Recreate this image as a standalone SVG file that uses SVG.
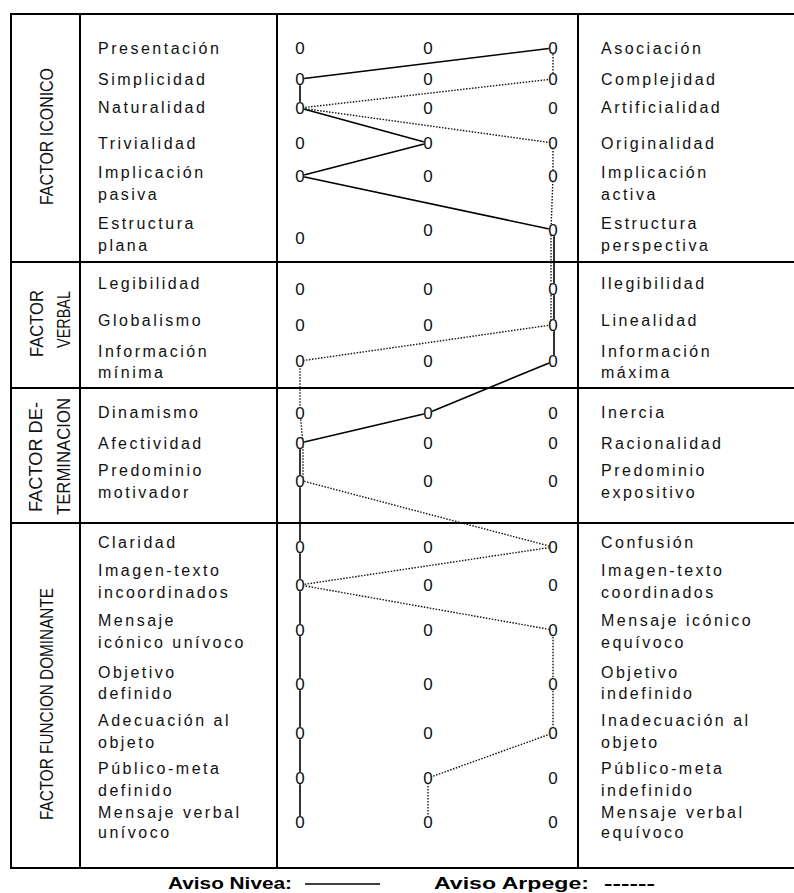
<svg xmlns="http://www.w3.org/2000/svg" width="794" height="893" viewBox="0 0 794 893">
<style>
.lbl{font-family:"Liberation Sans",Arial,sans-serif;font-size:16px;letter-spacing:2.5px;fill:#111}
.z{font-family:"Liberation Sans",Arial,sans-serif;font-size:17px;fill:#111;text-anchor:middle}
.zb{fill:#fff}
.fac{font-family:"Liberation Sans",Arial,sans-serif;font-size:18px;fill:#111}
.grid{stroke:#000;stroke-width:2;fill:none}
.nivea{stroke:#000;stroke-width:1.6;fill:none;stroke-linejoin:round}
.arpege{stroke:#111;stroke-width:1.4;stroke-dasharray:1.5 1.5;fill:none}
.leg{font-family:"Liberation Sans",Arial,sans-serif;font-weight:bold;font-size:17px;fill:#000}
</style>
<defs>
<ellipse id="zbg" class="zb" rx="4.3" ry="6.3"/>
</defs>
<rect width="794" height="893" fill="#fff"/>

<g id="grid" class="grid">
<path d="M10,14H794M10,262H794M10,388H794M10,523H794M10,868H794"/>
<path d="M11,14V868M80,14V868M277,14V868M578,14V868"/>
</g>

<g id="factors">
<text class="fac" transform="translate(53,205) rotate(-90)" textLength="137" lengthAdjust="spacingAndGlyphs">FACTOR ICONICO</text>
<text class="fac" transform="translate(43,357) rotate(-90)" textLength="67" lengthAdjust="spacingAndGlyphs">FACTOR</text>
<text class="fac" transform="translate(70,348) rotate(-90)" textLength="57" lengthAdjust="spacingAndGlyphs">VERBAL</text>
<text class="fac" transform="translate(42,512) rotate(-90)" textLength="110" lengthAdjust="spacingAndGlyphs">FACTOR DE-</text>
<text class="fac" transform="translate(70,515) rotate(-90)" textLength="117" lengthAdjust="spacingAndGlyphs">TERMINACION</text>
<text class="fac" transform="translate(53,820) rotate(-90)" textLength="232" lengthAdjust="spacingAndGlyphs">FACTOR FUNCION DOMINANTE</text>
</g>

<g id="connectors">
<path class="nivea" d="M553,48 L300,79 L300,108 L428,143 L300,176 L554,230 L554,289 L554,325 L554,361 L428,413 L300,443 L300,481 L300,822"/>
<path class="arpege" d="M553,48 L553,79 L300,108 L553,143 L553,176 L551,230 L551,289 L551,325 L300,361 L300,413 L303,443 L303,481 L553,547 L300,585 L553,630 L553,684 L553,733 L428,778 L428,822"/>
</g>

<g id="row01"><text class="lbl" x="98" y="54">Presentación</text><text class="lbl" x="601" y="54">Asociación</text>
<use href="#zbg" x="300" y="48"/><text class="z" x="300" y="54">0</text><use href="#zbg" x="428" y="48"/><text class="z" x="428" y="54">0</text><use href="#zbg" x="553" y="48"/><text class="z" x="553" y="54">0</text></g>

<g id="row02"><text class="lbl" x="98" y="85">Simplicidad</text><text class="lbl" x="601" y="85">Complejidad</text>
<use href="#zbg" x="300" y="79"/><text class="z" x="300" y="85">0</text><use href="#zbg" x="428" y="79"/><text class="z" x="428" y="85">0</text><use href="#zbg" x="553" y="79"/><text class="z" x="553" y="85">0</text></g>

<g id="row03"><text class="lbl" x="98" y="113">Naturalidad</text><text class="lbl" x="601" y="113">Artificialidad</text>
<use href="#zbg" x="300" y="108"/><text class="z" x="300" y="114">0</text><use href="#zbg" x="428" y="108"/><text class="z" x="428" y="114">0</text><use href="#zbg" x="553" y="108"/><text class="z" x="553" y="114">0</text></g>

<g id="row04"><text class="lbl" x="98" y="149">Trivialidad</text><text class="lbl" x="601" y="149">Originalidad</text>
<use href="#zbg" x="300" y="143"/><text class="z" x="300" y="149">0</text><use href="#zbg" x="428" y="143"/><text class="z" x="428" y="149">0</text><use href="#zbg" x="553" y="143"/><text class="z" x="553" y="149">0</text></g>

<g id="row05"><text class="lbl" x="98" y="178">Implicación</text><text class="lbl" x="98" y="200">pasiva</text><text class="lbl" x="601" y="178">Implicación</text><text class="lbl" x="601" y="200">activa</text>
<use href="#zbg" x="300" y="176"/><text class="z" x="300" y="182">0</text><use href="#zbg" x="428" y="176"/><text class="z" x="428" y="182">0</text><use href="#zbg" x="553" y="176"/><text class="z" x="553" y="182">0</text></g>

<g id="row06"><text class="lbl" x="98" y="229">Estructura</text><text class="lbl" x="98" y="251">plana</text><text class="lbl" x="601" y="229">Estructura</text><text class="lbl" x="601" y="251">perspectiva</text>
<use href="#zbg" x="300" y="238"/><text class="z" x="300" y="244">0</text><use href="#zbg" x="428" y="230"/><text class="z" x="428" y="236">0</text><use href="#zbg" x="553" y="230"/><text class="z" x="553" y="236">0</text></g>

<g id="row07"><text class="lbl" x="98" y="289">Legibilidad</text><text class="lbl" x="601" y="289">Ilegibilidad</text>
<use href="#zbg" x="300" y="289"/><text class="z" x="300" y="295">0</text><use href="#zbg" x="428" y="289"/><text class="z" x="428" y="295">0</text><use href="#zbg" x="553" y="289"/><text class="z" x="553" y="295">0</text></g>

<g id="row08"><text class="lbl" x="98" y="326">Globalismo</text><text class="lbl" x="601" y="326">Linealidad</text>
<use href="#zbg" x="300" y="325"/><text class="z" x="300" y="331">0</text><use href="#zbg" x="428" y="325"/><text class="z" x="428" y="331">0</text><use href="#zbg" x="553" y="325"/><text class="z" x="553" y="331">0</text></g>

<g id="row09"><text class="lbl" x="98" y="357">Información</text><text class="lbl" x="98" y="378">mínima</text><text class="lbl" x="601" y="357">Información</text><text class="lbl" x="601" y="378">máxima</text>
<use href="#zbg" x="300" y="361"/><text class="z" x="300" y="367">0</text><use href="#zbg" x="428" y="361"/><text class="z" x="428" y="367">0</text><use href="#zbg" x="553" y="361"/><text class="z" x="553" y="367">0</text></g>

<g id="row10"><text class="lbl" x="98" y="418">Dinamismo</text><text class="lbl" x="601" y="418">Inercia</text>
<use href="#zbg" x="300" y="413"/><text class="z" x="300" y="419">0</text><use href="#zbg" x="428" y="413"/><text class="z" x="428" y="419">0</text><use href="#zbg" x="553" y="413"/><text class="z" x="553" y="419">0</text></g>

<g id="row11"><text class="lbl" x="98" y="449">Afectividad</text><text class="lbl" x="601" y="449">Racionalidad</text>
<use href="#zbg" x="300" y="443"/><text class="z" x="300" y="449">0</text><use href="#zbg" x="428" y="443"/><text class="z" x="428" y="449">0</text><use href="#zbg" x="553" y="443"/><text class="z" x="553" y="449">0</text></g>

<g id="row12"><text class="lbl" x="98" y="476">Predominio</text><text class="lbl" x="98" y="498">motivador</text><text class="lbl" x="601" y="476">Predominio</text><text class="lbl" x="601" y="498">expositivo</text>
<use href="#zbg" x="300" y="481"/><text class="z" x="300" y="487">0</text><use href="#zbg" x="428" y="481"/><text class="z" x="428" y="487">0</text><use href="#zbg" x="553" y="481"/><text class="z" x="553" y="487">0</text></g>

<g id="row13"><text class="lbl" x="98" y="548">Claridad</text><text class="lbl" x="601" y="548">Confusión</text>
<use href="#zbg" x="300" y="547"/><text class="z" x="300" y="553">0</text><use href="#zbg" x="428" y="547"/><text class="z" x="428" y="553">0</text><use href="#zbg" x="553" y="547"/><text class="z" x="553" y="553">0</text></g>

<g id="row14"><text class="lbl" x="98" y="576">Imagen-texto</text><text class="lbl" x="98" y="598">incoordinados</text><text class="lbl" x="601" y="576">Imagen-texto</text><text class="lbl" x="601" y="598">coordinados</text>
<use href="#zbg" x="300" y="585"/><text class="z" x="300" y="591">0</text><use href="#zbg" x="428" y="585"/><text class="z" x="428" y="591">0</text><use href="#zbg" x="553" y="585"/><text class="z" x="553" y="591">0</text></g>

<g id="row15"><text class="lbl" x="98" y="626">Mensaje</text><text class="lbl" x="98" y="648">icónico unívoco</text><text class="lbl" x="601" y="626">Mensaje icónico</text><text class="lbl" x="601" y="648">equívoco</text>
<use href="#zbg" x="300" y="630"/><text class="z" x="300" y="636">0</text><use href="#zbg" x="428" y="630"/><text class="z" x="428" y="636">0</text><use href="#zbg" x="553" y="630"/><text class="z" x="553" y="636">0</text></g>

<g id="row16"><text class="lbl" x="98" y="678">Objetivo</text><text class="lbl" x="98" y="699">definido</text><text class="lbl" x="601" y="678">Objetivo</text><text class="lbl" x="601" y="699">indefinido</text>
<use href="#zbg" x="300" y="684"/><text class="z" x="300" y="690">0</text><use href="#zbg" x="428" y="684"/><text class="z" x="428" y="690">0</text><use href="#zbg" x="553" y="684"/><text class="z" x="553" y="690">0</text></g>

<g id="row17"><text class="lbl" x="98" y="726">Adecuación al</text><text class="lbl" x="98" y="748">objeto</text><text class="lbl" x="601" y="726">Inadecuación al</text><text class="lbl" x="601" y="748">objeto</text>
<use href="#zbg" x="300" y="733"/><text class="z" x="300" y="739">0</text><use href="#zbg" x="428" y="733"/><text class="z" x="428" y="739">0</text><use href="#zbg" x="553" y="733"/><text class="z" x="553" y="739">0</text></g>

<g id="row18"><text class="lbl" x="98" y="774">Público-meta</text><text class="lbl" x="98" y="796">definido</text><text class="lbl" x="601" y="774">Público-meta</text><text class="lbl" x="601" y="796">indefinido</text>
<use href="#zbg" x="300" y="778"/><text class="z" x="300" y="784">0</text><use href="#zbg" x="428" y="778"/><text class="z" x="428" y="784">0</text><use href="#zbg" x="553" y="778"/><text class="z" x="553" y="784">0</text></g>

<g id="row19"><text class="lbl" x="98" y="818">Mensaje verbal</text><text class="lbl" x="98" y="838">unívoco</text><text class="lbl" x="601" y="818">Mensaje verbal</text><text class="lbl" x="601" y="838">equívoco</text>
<use href="#zbg" x="300" y="822"/><text class="z" x="300" y="828">0</text><use href="#zbg" x="428" y="822"/><text class="z" x="428" y="828">0</text><use href="#zbg" x="553" y="822"/><text class="z" x="553" y="828">0</text></g>

<g id="legend">
<text class="leg" x="168" y="889" textLength="124" lengthAdjust="spacingAndGlyphs">Aviso Nivea:</text>
<path d="M305,884H380" stroke="#000" stroke-width="1.6"/>
<text class="leg" x="434" y="889" textLength="155" lengthAdjust="spacingAndGlyphs">Aviso Arpege:</text>
<text class="leg" x="604" y="889" font-weight="normal" textLength="51" lengthAdjust="spacingAndGlyphs">------</text>
</g>
</svg>
